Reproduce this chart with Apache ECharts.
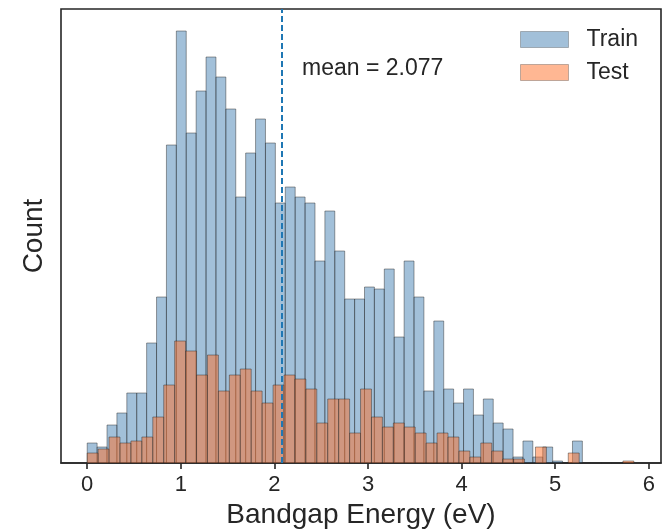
<html>
<head>
<meta charset="UTF-8">
<script src="https://cdn.jsdelivr.net/npm/echarts@6/dist/echarts.min.js"></script>
<style type="text/css">
body{margin:0;background:#fff;}
#chart{width:669px;height:529px;}
</style>
</head>
<body>
<div id="chart"></div>
<script type="text/javascript">
// histogram counts (50 bins each)
var trainMin = 0, trainMax = 5.29;
var trainCounts = [10,8,19,25,35,35,60,83,159,216,165,186,203,193,177,133,155,172,160,130,
	138,133,130,101,126,106,82,82,88,87,97,63,101,83,36,71,37,30,37,24,
	32,20,17,3,11,3,8,1,0,11];
var testMin = 0, testMax = 5.84;
var testCounts = [5,7,13,10,11,13,23,39,61,56,44,54,36,44,47,36,30,39,44,42,
	37,20,32,32,15,37,23,18,20,18,15,10,15,13,6,3,10,6,2,2,
	0,8,0,0,5,0,0,0,0,1];
var meanValue = 2.077;
var xTicks = [0,1,2,3,4,5,6];

function bins(lo, hi, counts){
	var w = (hi - lo) / counts.length;
	var out = [];
	for (var i = 0; i < counts.length; i++) {
		out.push([lo + i * w, lo + (i + 1) * w, counts[i]]);
	}
	return out;
}

function renderBar(params, api){
	var p0 = api.coord([api.value(0), 0]);
	var p1 = api.coord([api.value(1), api.value(2)]);
	return {
		type: 'rect',
		shape: {x: p0[0], y: p1[1], width: p1[0] - p0[0], height: p0[1] - p1[1]},
		style: api.style({stroke: 'rgba(40,40,40,0.45)', lineWidth: 1})
	};
}

var font = 'Liberation Sans';
var trainColor = 'rgba(70,130,180,0.5)';
var testColor = 'rgba(255,112,40,0.5)';

var myChart = echarts.init(document.getElementById('chart'));
var option = {
	animation: false,
	grid: {left: 61, right: 8, top: 9, bottom: 66, outerBoundsMode: 'none', containLabel: false,
		show: true, borderColor: '#262626', borderWidth: 1.6},
	legend: {
		orient: 'vertical', left: 520, top: 28, padding: 0, itemGap: 10,
		itemWidth: 48, itemHeight: 16, icon: 'rect',
		textStyle: {fontFamily: font, fontSize: 23, color: '#262626', padding: [0,0,0,13]},
		data: [
			{name: 'Train', itemStyle: {color: trainColor, borderColor: 'rgba(40,40,40,0.3)', borderWidth: 1}},
			{name: 'Test', itemStyle: {color: testColor, borderColor: 'rgba(40,40,40,0.3)', borderWidth: 1}}
		]
	},
	xAxis: {
		type: 'value', min: -0.28, max: 6.13,
		name: 'Bandgap Energy (eV)', nameLocation: 'middle', nameGap: 36,
		nameTextStyle: {fontFamily: font, fontSize: 28, color: '#262626'},
		axisLine: {show: true, lineStyle: {color: '#262626', width: 1.6}},
		axisTick: {show: true, length: 6, customValues: xTicks, lineStyle: {color: '#262626', width: 1.6}},
		axisLabel: {customValues: xTicks, fontFamily: font, fontSize: 22, color: '#262626', margin: 11},
		splitLine: {show: false}
	},
	yAxis: {
		type: 'value', min: 0, max: 227,
		name: 'Count', nameLocation: 'middle', nameGap: 13,
		nameTextStyle: {fontFamily: font, fontSize: 28, color: '#262626'},
		axisLine: {show: false}, axisTick: {show: false}, axisLabel: {show: false},
		splitLine: {show: false}
	},
	series: [
		{
			name: 'Train', type: 'custom', renderItem: renderBar,
			itemStyle: {color: trainColor},
			encode: {x: [0, 1], y: 2},
			data: bins(trainMin, trainMax, trainCounts)
		},
		{
			name: 'Test', type: 'custom', renderItem: renderBar,
			itemStyle: {color: testColor},
			encode: {x: [0, 1], y: 2},
			data: bins(testMin, testMax, testCounts),
			markLine: {
				silent: true, symbol: 'none',
				lineStyle: {color: '#1f77b4', type: [6, 3], width: 2},
				label: {show: false},
				data: [{xAxis: meanValue}]
			}
		}
	],
	graphic: [{
		type: 'text', left: 302, top: 57,
		style: {text: 'mean = ' + meanValue.toFixed(3), fontFamily: font, fontSize: 23, fill: '#262626'}
	}]
};
myChart.setOption(option, true);
</script>
</body>
</html>
